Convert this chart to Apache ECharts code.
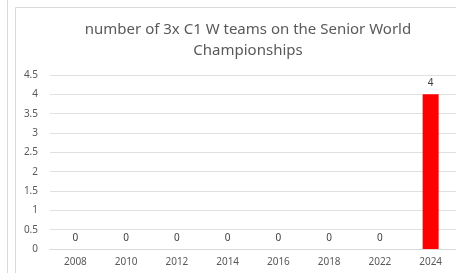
<!DOCTYPE html>
<html>
<head>
<meta charset="utf-8">
<script src="https://cdn.jsdelivr.net/npm/echarts@6/dist/echarts.min.js"></script>
<style>
html, body { margin: 0; padding: 0; background: #fff; }
#chart { width: 456px; height: 273px; }
</style>
</head>
<body>
<div id="chart"></div>
<script>
var years = ['2008', '2010', '2012', '2014', '2016', '2018', '2022', '2024']
var teams = [0, 0, 0, 0, 0, 0, 0, 4]

var chart = echarts.init(document.getElementById('chart'))
var option = {
  animation: false,
  backgroundColor: '#fff',
  title: {
    text: 'number of 3x C1 W teams on the Senior World\nChampionships',
    left: 243,
    textAlign: 'center',
    top: 14,
    textStyle: {
      color: '#595959',
      fontSize: 15,
      fontWeight: 'normal',
      fontFamily: 'Noto Sans',
      lineHeight: 21
    }
  },
  graphic: [
    {type: 'line', shape: {x1: 7.5, y1: 0, x2: 7.5, y2: 273}, style: {stroke: '#d9d9d9', lineWidth: 1}},
    {type: 'rect', shape: {x: 15.5, y: 7.5, width: 460, height: 280}, style: {fill: 'none', stroke: '#d9d9d9', lineWidth: 1}}
  ],
  grid: {
    left: 50,
    right: 0,
    top: 75,
    bottom: 24
  },
  xAxis: {
    type: 'category',
    data: years,
    axisLine: {lineStyle: {color: '#d9d9d9'}},
    axisTick: {show: false},
    axisLabel: {color: '#595959', fontSize: 10, fontFamily: 'Noto Sans', margin: 8}
  },
  yAxis: {
    type: 'value',
    min: 0,
    max: 4.5,
    interval: 0.5,
    axisLine: {show: false},
    axisTick: {show: false},
    axisLabel: {color: '#595959', fontSize: 10, fontFamily: 'Noto Sans', margin: 12},
    splitLine: {lineStyle: {color: '#e0e0e0'}}
  },
  series: [{
    type: 'bar',
    data: teams,
    barWidth: 16,
    itemStyle: {color: '#ff0000'},
    label: {
      show: true,
      position: 'top',
      distance: 6,
      color: '#404040',
      fontSize: 10,
      fontFamily: 'Noto Sans'
    }
  }]
}
chart.setOption(option)
</script>
</body>
</html>
